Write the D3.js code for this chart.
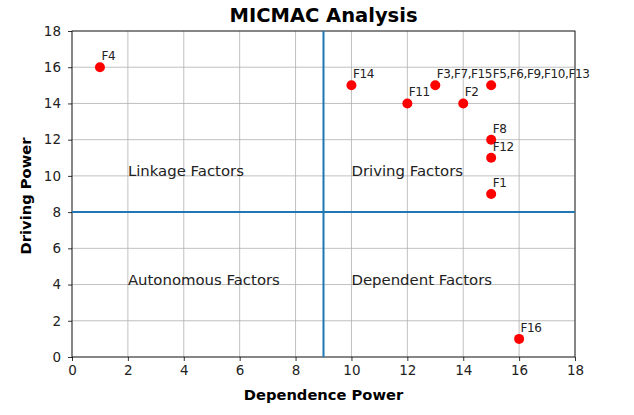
<!DOCTYPE html>
<html><head><meta charset="utf-8">
<script src="https://cdn.jsdelivr.net/npm/d3@7"></script>
<style>body{margin:0;background:#fff}text{font-family:"DejaVu Sans",sans-serif}</style>
</head><body><svg id="c" width="634" height="415"></svg>
<script>
const labels = ["F4","F14","F3,F7,F15","F5,F6,F9,F10,F13","F11","F2","F8","F12","F1","F16"];
const dependence = [1,10,13,15,12,14,15,15,15,16];
const driving = [16,15,15,15,14,14,12,11,9,1];
const ticks = [0,2,4,6,8,10,12,14,16,18];
const quadrants = [
  {name:"Linkage Factors", x:2, y:10},
  {name:"Driving Factors", x:10, y:10},
  {name:"Autonomous Factors", x:2, y:4},
  {name:"Dependent Factors", x:10, y:4}
];
const divX = 9, divY = 8;

const svg = d3.select("#c");
const L=72,R=575,T=31,B=357;
const x = d3.scaleLinear().domain([0,18]).range([L,R]);
const y = d3.scaleLinear().domain([0,18]).range([B,T]);

// grid
svg.append("g").selectAll("line").data(ticks).join("line")
  .attr("x1",d=>x(d)).attr("x2",d=>x(d)).attr("y1",T).attr("y2",B)
  .attr("stroke","#b0b0b0").attr("stroke-width",0.8);
svg.append("g").selectAll("line").data(ticks).join("line")
  .attr("y1",d=>y(d)).attr("y2",d=>y(d)).attr("x1",L).attr("x2",R)
  .attr("stroke","#b0b0b0").attr("stroke-width",0.8);

// axes
const xa = svg.append("g").attr("transform",`translate(0,${B})`)
  .call(d3.axisBottom(x).tickValues(ticks).tickSize(4).tickPadding(4));
const ya = svg.append("g").attr("transform",`translate(${L},0)`)
  .call(d3.axisLeft(y).tickValues(ticks).tickSize(4).tickPadding(7));
[xa,ya].forEach(a=>{
  a.select(".domain").remove();
  a.selectAll("text").attr("font-size","13.5px").attr("fill","#222").attr("font-family","DejaVu Sans");
  a.selectAll("line").attr("stroke","#000").attr("stroke-width",0.8);
});
svg.append("rect").attr("x",L).attr("y",T).attr("width",R-L).attr("height",B-T)
  .attr("fill","none").attr("stroke","#000").attr("stroke-width",0.8);

// divider lines
svg.append("line").attr("x1",x(divX)).attr("x2",x(divX)).attr("y1",T).attr("y2",B)
  .attr("stroke","#1f77b4").attr("stroke-width",2);
svg.append("line").attr("x1",L).attr("x2",R).attr("y1",y(divY)).attr("y2",y(divY))
  .attr("stroke","#1f77b4").attr("stroke-width",2);

// quadrant labels
svg.append("g").selectAll("text").data(quadrants).join("text")
  .attr("x",d=>x(d.x)).attr("y",d=>y(d.y)).attr("font-size","14.9px").attr("fill","#222")
  .text(d=>d.name);

// points
svg.append("g").selectAll("circle").data(labels).join("circle")
  .attr("cx",(d,i)=>x(dependence[i])).attr("cy",(d,i)=>y(driving[i])).attr("r",5)
  .attr("fill","#ff0000");
svg.append("g").selectAll("text").data(labels).join("text")
  .attr("x",(d,i)=>x(dependence[i])+1.5).attr("y",(d,i)=>y(driving[i])-7)
  .attr("font-size","12px").attr("letter-spacing","-0.4px").attr("fill","#222").text(d=>d);

// titles
svg.append("text").attr("x",(L+R)/2).attr("y",22).attr("text-anchor","middle")
  .attr("font-size","19.5px").attr("font-weight","bold").text("MICMAC Analysis");
svg.append("text").attr("x",(L+R)/2).attr("y",400).attr("text-anchor","middle")
  .attr("font-size","14.7px").attr("font-weight","bold").text("Dependence Power");
svg.append("text").attr("transform",`translate(31,${(T+B)/2 + 2}) rotate(-90)`).attr("text-anchor","middle")
  .attr("font-size","14.7px").attr("font-weight","bold").text("Driving Power");
</script></body></html>
